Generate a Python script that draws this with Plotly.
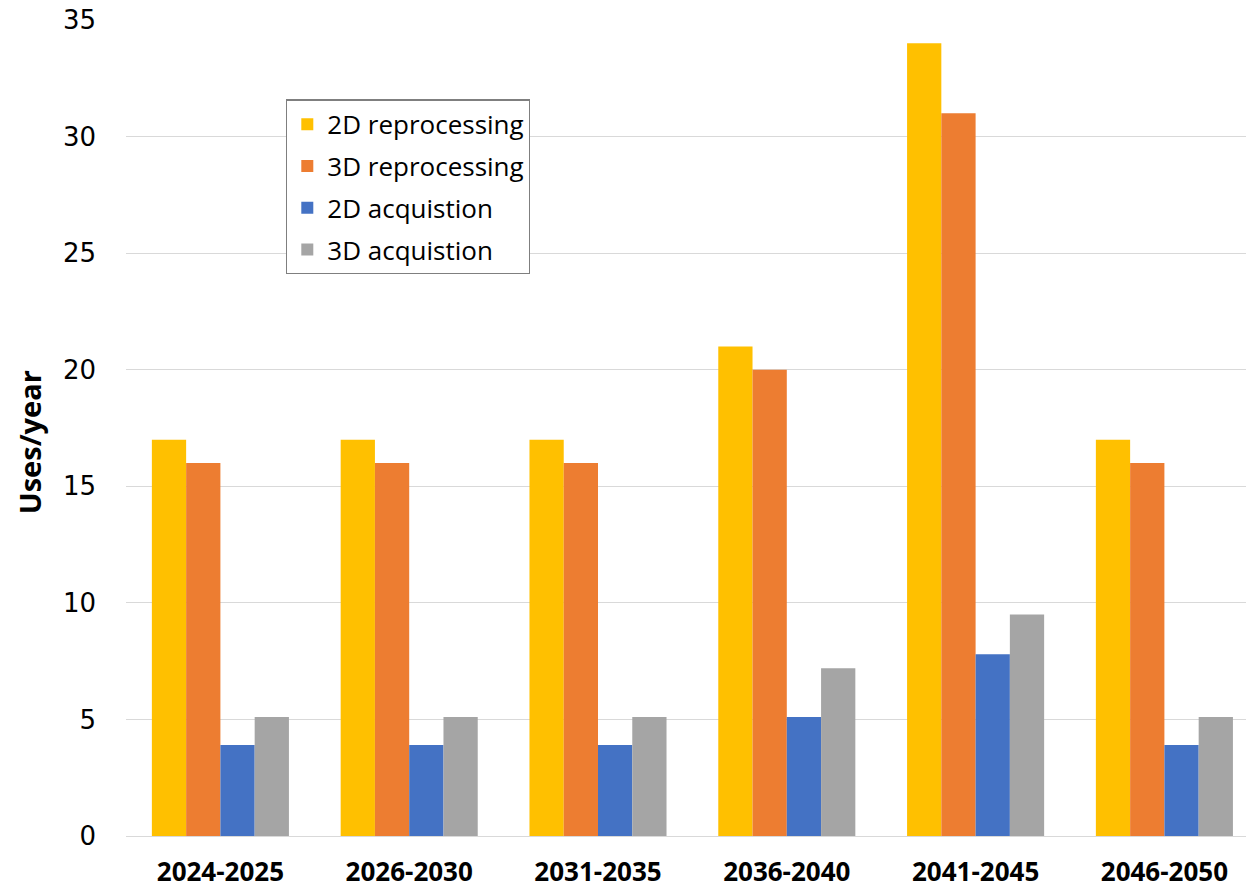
import plotly.graph_objects as go

categories = ["2024-2025", "2026-2030", "2031-2035", "2036-2040", "2041-2045", "2046-2050"]
reproc_2d = [17, 17, 17, 21, 34, 17]
reproc_3d = [16, 16, 16, 20, 31, 16]
acq_2d = [3.9, 3.9, 3.9, 5.1, 7.8, 3.9]
acq_3d = [5.1, 5.1, 5.1, 7.2, 9.5, 5.1]
y_ticks = [0, 5, 10, 15, 20, 25, 30, 35]
y_title = "Uses/year"

series = [
    ("2D reprocessing", reproc_2d, "#FFC000"),
    ("3D reprocessing", reproc_3d, "#ED7D31"),
    ("2D acquistion", acq_2d, "#4472C4"),
    ("3D acquistion", acq_3d, "#A5A5A5"),
]

fig = go.Figure()
for i, (name, vals, col) in enumerate(series):
    fig.add_trace(go.Bar(x=list(range(len(categories))), y=vals, name=name,
                         legendgroup="g%d" % i,
                         marker=dict(color=col, line=dict(width=0))))

W, H = 1246, 890
left, right_px, top, bottom = 126, 1246, 19.5, 836
spacing = 188.8
xmax = -0.5 + (right_px - left) / spacing

fig.update_layout(
    width=W, height=H,
    margin=dict(l=left, r=W - right_px, t=top, b=H - bottom, pad=0, autoexpand=False),
    paper_bgcolor="white", plot_bgcolor="white",
    barmode="group", bargap=0.274, bargroupgap=0,
    font=dict(family="Liberation Sans, Arial, sans-serif", color="#000000"),
    xaxis=dict(
        range=[-0.5, xmax], tickmode="array", tickvals=list(range(len(categories))),
        ticktext=["<b>%s</b>" % c for c in categories],
        tickfont=dict(size=26, family="Open Sans, sans-serif", color="#000"),
        showgrid=False, showline=False, ticks="", ticklabelstandoff=18,
        automargin=False,
    ),
    yaxis=dict(
        range=[0, 35], tickmode="array", tickvals=y_ticks,
        tickfont=dict(size=26, family="DejaVu Sans, sans-serif", color="#000"),
        showgrid=True, gridcolor="#D9D9D9", gridwidth=1.3,
        zeroline=True, zerolinecolor="#D9D9D9", zerolinewidth=1.3,
        showline=False, ticks="", ticklabelstandoff=29, automargin=False,
    ),
    legend=dict(
        x=(286 - left) / (right_px - left), y=(bottom - 99) / (bottom - top),
        xanchor="left", yanchor="top",
        bordercolor="#7F7F7F", borderwidth=1.3, bgcolor="white",
        font=dict(size=26, family="Open Sans, sans-serif", color="#000"),
        itemwidth=30, traceorder="grouped", tracegroupgap=5,
    ),
    annotations=[dict(
        text="<b>%s</b>" % y_title, textangle=-90, showarrow=False,
        xref="paper", yref="paper",
        x=(29 - left) / (right_px - left), y=(bottom - 442) / (bottom - top),
        xanchor="center", yanchor="middle",
        font=dict(size=29, family="Open Sans, sans-serif", color="#000"),
    )],
    showlegend=True,
)

fig.write_html("out.html")
